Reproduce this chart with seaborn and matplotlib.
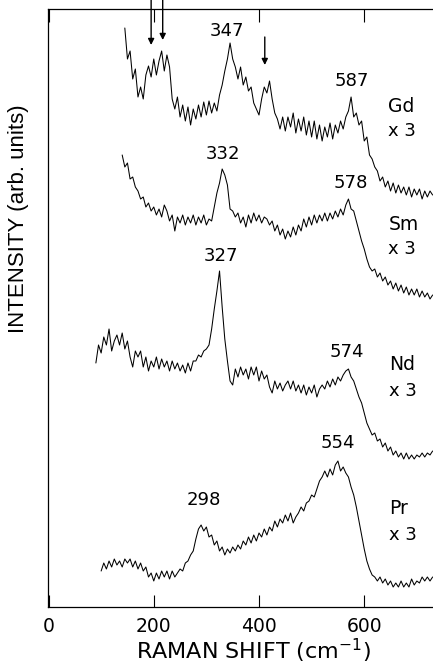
import numpy as np
import pandas as pd
import matplotlib
matplotlib.use("Agg")
import matplotlib.pyplot as plt
import seaborn as sns

STEP = 5  # cm^-1 sampling of the traced spectra

GD_START = 145
GD_I = [579, 548, 556, 528, 538, 510, 520, 508, 532, 541, 530, 548, 532, 546, 556, 536,
        552, 540, 508, 498, 510, 490, 502, 486, 500, 482, 498, 488, 502, 490, 505, 492,
        506, 494, 504, 496, 512, 522, 536, 548, 564, 548, 540, 528, 540, 522, 530, 516,
        520, 504, 498, 492, 508, 520, 514, 526, 508, 494, 488, 478, 490, 476, 490, 480,
        494, 474, 488, 476, 490, 472, 486, 470, 486, 468, 482, 466, 480, 470, 484, 468,
        482, 474, 486, 478, 490, 496, 510, 490, 494, 482, 486, 466, 470, 452, 448, 440,
        436, 426, 430, 420, 426, 416, 424, 414, 422, 414, 420, 412, 420, 410, 418, 412,
        418, 408, 416, 410, 416, 412]

SM_START = 140
SM_I = [452, 440, 444, 428, 430, 420, 416, 408, 410, 400, 404, 396, 400, 392, 398, 390,
        402, 396, 386, 392, 376, 390, 384, 392, 382, 390, 384, 392, 382, 390, 384, 392,
        382, 388, 386, 400, 414, 424, 438, 432, 422, 398, 396, 390, 394, 384, 390, 380,
        392, 384, 394, 386, 392, 384, 390, 388, 382, 386, 376, 382, 372, 378, 368, 376,
        370, 380, 372, 382, 376, 388, 380, 390, 382, 392, 384, 392, 386, 394, 386, 394,
        388, 396, 390, 398, 392, 402, 408, 398, 396, 386, 376, 366, 358, 348, 340, 336,
        338, 330, 334, 326, 330, 322, 326, 318, 324, 316, 322, 314, 320, 312, 318, 312,
        318, 310, 316, 310, 314, 308, 312]

ND_START = 90
ND_I = [244, 262, 254, 270, 262, 278, 256, 266, 272, 262, 274, 258, 266, 250, 240, 256,
        250, 256, 240, 250, 236, 246, 240, 250, 238, 248, 240, 246, 236, 246, 238, 244,
        236, 242, 234, 244, 236, 246, 246, 252, 250, 256, 258, 262, 278, 298, 316, 336,
        300, 268, 246, 226, 222, 238, 230, 240, 232, 238, 228, 240, 232, 240, 226, 236,
        228, 232, 220, 214, 226, 218, 224, 216, 222, 226, 218, 226, 216, 222, 214, 222,
        212, 220, 214, 222, 210, 218, 222, 218, 226, 220, 228, 222, 230, 226, 232, 236,
        238, 230, 226, 218, 210, 204, 194, 184, 178, 172, 174, 166, 168, 160, 164, 156,
        160, 152, 156, 150, 154, 148, 154, 148, 152, 148, 152, 150, 154, 150, 154, 152, 156]

PR_START = 100
PR_I = [36, 44, 38, 46, 40, 48, 42, 46, 40, 48, 44, 48, 40, 46, 38, 44,
        36, 40, 30, 34, 26, 34, 28, 36, 30, 36, 28, 36, 30, 34, 38, 36,
        44, 46, 52, 56, 68, 78, 82, 76, 80, 70, 72, 62, 66, 56, 60, 52,
        58, 54, 60, 56, 62, 58, 66, 62, 70, 64, 72, 66, 74, 70, 78, 72,
        80, 76, 86, 80, 88, 84, 92, 86, 94, 84, 90, 94, 100, 96, 104, 106,
        112, 110, 118, 126, 130, 136, 130, 138, 132, 142, 146, 136, 140, 134, 130, 120,
        112, 100, 86, 72, 58, 46, 38, 32, 30, 26, 30, 24, 28, 22, 26, 20,
        24, 20, 26, 20, 24, 20, 28, 22, 26, 24, 30, 26, 30, 26, 30]

SAMPLES = ["Gd", "Sm", "Nd", "Pr"]
PEAKS = {"Gd": ["347", "587"], "Sm": ["332", "578"], "Nd": ["327", "574"], "Pr": ["298", "554"]}
XTICKS = [0, 200, 400, 600]

frames = []
for name, start, vals in [("Gd", GD_START, GD_I), ("Sm", SM_START, SM_I),
                          ("Nd", ND_START, ND_I), ("Pr", PR_START, PR_I)]:
    vals = np.asarray(vals, dtype=float)
    frames.append(pd.DataFrame({"shift": start + STEP * np.arange(len(vals)),
                                "intensity": vals, "sample": name}))
df = pd.concat(frames, ignore_index=True)

sns.set_style("ticks")
plt.rcParams["font.family"] = ["DejaVu Sans"]
plt.rcParams["text.color"] = "black"
plt.rcParams["axes.labelcolor"] = "black"
plt.rcParams["xtick.color"] = "black"

fig = plt.figure(figsize=(4.33, 6.65), dpi=100)
ax = fig.add_axes([48 / 433, 58 / 665, 392 / 433, 598 / 665])

sns.lineplot(data=df, x="shift", y="intensity", units="sample", estimator=None,
             color="black", lw=0.75, ax=ax, legend=False)

ax.set_xlim(-1, 744)
ax.set_ylim(0, 598)
ax.set_xticks(XTICKS)
ax.set_yticks([])
ax.tick_params(axis="x", direction="in", top=True, bottom=True, length=9, width=0.8,
               labelsize=13.5, pad=7, colors="black")
for side in ["left", "bottom", "top"]:
    ax.spines[side].set_visible(True)
    ax.spines[side].set_linewidth(0.9)
    ax.spines[side].set_color("black")
ax.spines["right"].set_visible(False)

ax.set_xlabel("RAMAN SHIFT (cm$^{\\mathregular{-1}}$)", fontsize=16)
ax.xaxis.set_label_coords(0.523, -0.05)
ax.set_ylabel("INTENSITY (arb. units)", fontsize=16, family="Liberation Sans")
ax.yaxis.set_label_coords(-0.048, 0.65)

fs = 13
# peak labels
peak_pos = {"347": (339, 576), "587": (576, 526), "332": (332, 453), "578": (574, 424),
            "327": (328, 351), "574": (567, 255), "298": (295, 107), "554": (550, 164)}
for name in SAMPLES:
    for lab in PEAKS[name]:
        px, py = peak_pos[lab]
        ax.text(px, py, lab, ha="center", va="center", fontsize=fs)

# sample labels
name_pos = {"Gd": (646, 501, 476), "Sm": (646, 383, 358), "Nd": (648, 243, 216),
            "Pr": (648, 99, 72)}
for name in SAMPLES:
    x0, y1, y2 = name_pos[name]
    ax.text(x0, y1, name, ha="left", va="center", fontsize=13.5)
    ax.text(x0, y2, "x 3", ha="left", va="center", fontsize=13)

# arrows
for xa, y_from, y_to in [(195, 612, 562), (217, 612, 567), (411, 570, 542)]:
    ax.annotate("", xy=(xa, y_to), xytext=(xa, y_from),
                arrowprops=dict(arrowstyle="-|>", color="black", lw=1.0,
                                mutation_scale=9, shrinkA=0, shrinkB=0),
                annotation_clip=False)

fig.savefig("out.png", dpi=100)
